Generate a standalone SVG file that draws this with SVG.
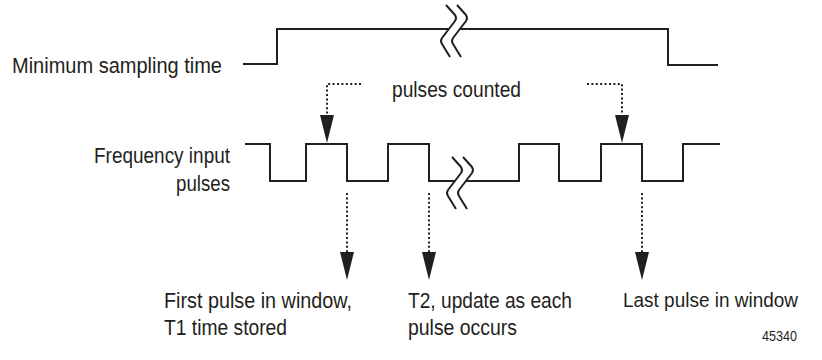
<svg xmlns="http://www.w3.org/2000/svg" width="822" height="360" viewBox="0 0 822 360">
<defs>
<style>
.sig{fill:none;stroke:#231f20;stroke-width:2;stroke-linejoin:miter}
.brk{fill:none;stroke:#231f20;stroke-width:2;stroke-linejoin:round;stroke-linecap:butt}
.dot{fill:none;stroke:#231f20;stroke-width:2;stroke-dasharray:2 2.4}
.head{fill:#231f20;stroke:none}
text{font-family:"Liberation Sans",Arial,sans-serif;font-size:22px;fill:#231f20}
.small{font-size:14px}
.fit{font-size:20.5px}
</style>
<path id="zig" d="M446,5 L455,15 Q457,18 455,21 L442,38 Q440,41 442,44 L450,57"/>
<path id="ahead" d="M-7,0 L7,0 L0,28 Z"/>
</defs>
<rect width="822" height="360" fill="#ffffff"/>

<g id="min-sampling">
<text x="12" y="72.5" textLength="210" lengthAdjust="spacingAndGlyphs">Minimum sampling time</text>
<path class="sig" d="M243,64 H277 V29 H449"/>
<path class="sig" d="M460,29 H668 V65 H718"/>
<use href="#zig" class="brk"/>
<use href="#zig" class="brk" transform="translate(11,0)"/>
</g>

<g id="freq-input">
<text x="230" y="163" text-anchor="end" textLength="136" lengthAdjust="spacingAndGlyphs">Frequency input</text>
<text x="230" y="191" text-anchor="end" textLength="54" lengthAdjust="spacingAndGlyphs">pulses</text>
<path class="sig" d="M245,144 H270 V181 H306 V144 H347 V181 H388 V144 H429 V181 H455"/>
<path class="sig" d="M466,181 H519 V144 H559 V181 H601 V144 H642 V181 H683 V144 H720"/>
<use href="#zig" class="brk" transform="translate(6,152)"/>
<use href="#zig" class="brk" transform="translate(17,152)"/>
</g>

<g id="pulses-counted">
<text x="392" y="97" textLength="129" lengthAdjust="spacingAndGlyphs">pulses counted</text>
</g>

<g id="first-pulse">
<text x="164" y="308" textLength="188" lengthAdjust="spacingAndGlyphs">First pulse in window,</text>
<text x="164" y="335" textLength="123" lengthAdjust="spacingAndGlyphs">T1 time stored</text>
</g>

<g id="t2-update">
<text x="408" y="308" textLength="164" lengthAdjust="spacingAndGlyphs">T2, update as each</text>
<text x="408" y="335" textLength="109" lengthAdjust="spacingAndGlyphs">pulse occurs</text>
</g>

<g id="last-pulse">
<text class="fit" x="623" y="307" textLength="175" lengthAdjust="spacingAndGlyphs">Last pulse in window</text>
</g>

<g id="figure-number">
<text class="small" x="797" y="341" text-anchor="end" textLength="35" lengthAdjust="spacingAndGlyphs">45340</text>
</g>

<g id="connectors">
<path class="dot" d="M361,84 H327 V115"/>
<use href="#ahead" class="head" transform="translate(327,115)"/>
<path class="dot" d="M587,84 H622 V115"/>
<use href="#ahead" class="head" transform="translate(622,115)"/>
<path class="dot" d="M347,193 V252"/>
<use href="#ahead" class="head" transform="translate(347,252)"/>
<path class="dot" d="M429,193 V252"/>
<use href="#ahead" class="head" transform="translate(429,252)"/>
<path class="dot" d="M642,193 V252"/>
<use href="#ahead" class="head" transform="translate(642,252)"/>
</g>
</svg>
